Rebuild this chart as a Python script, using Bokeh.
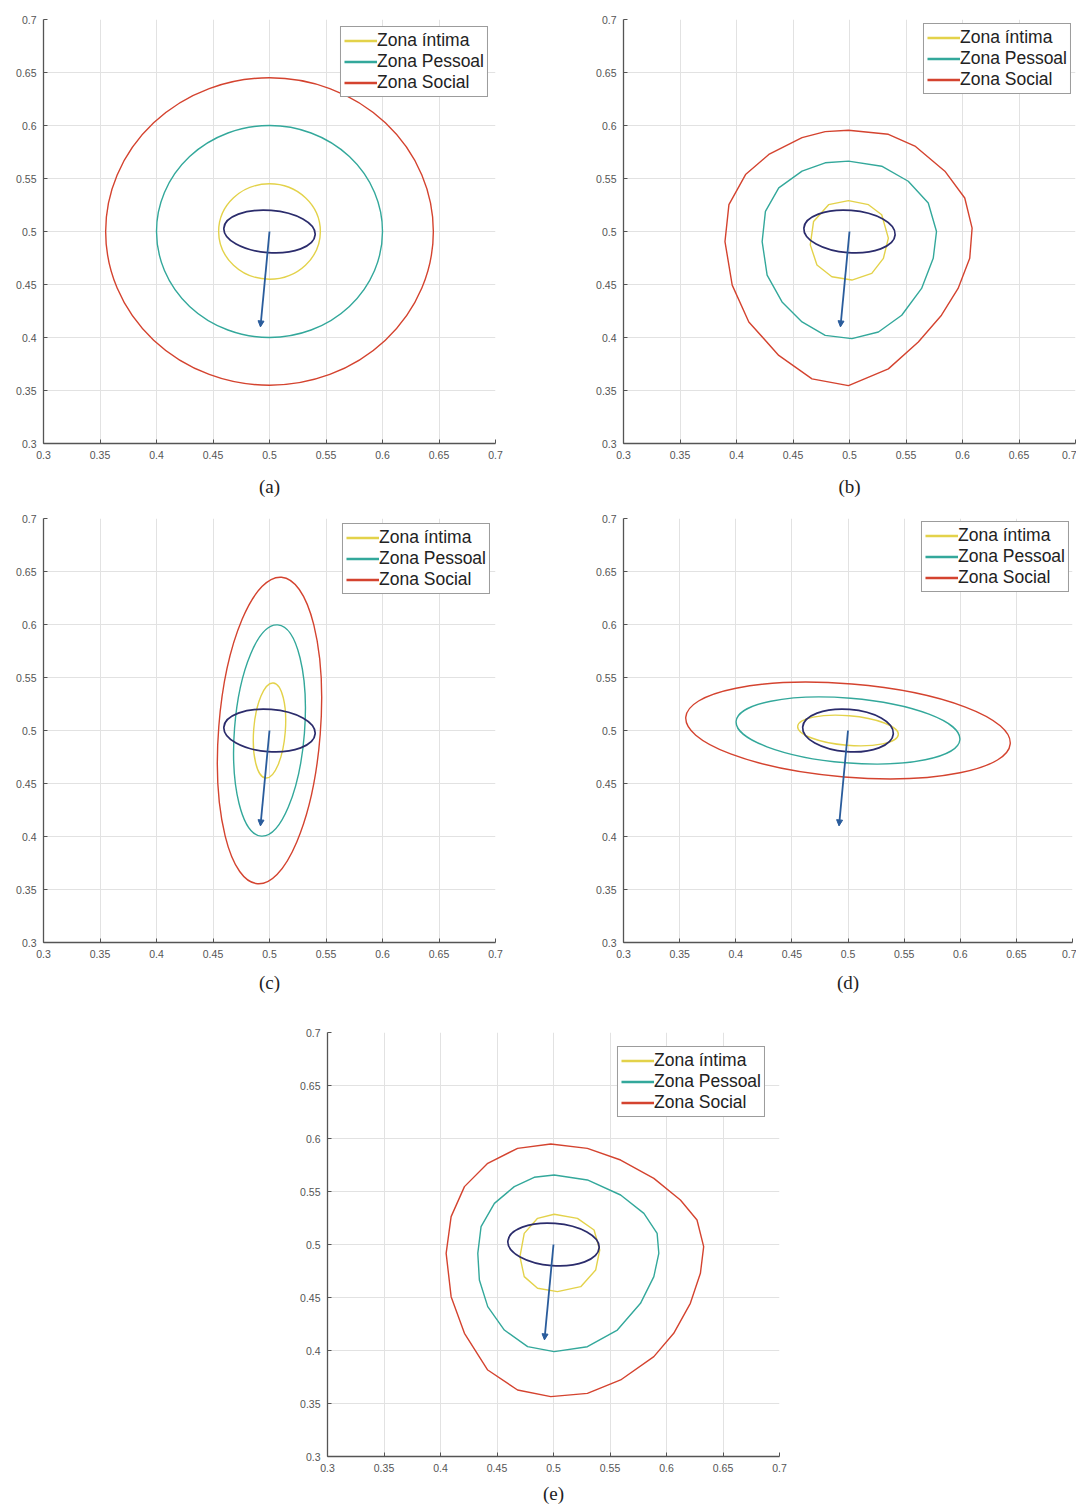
from bokeh.plotting import figure
from bokeh.models import Legend, LegendItem, Title, Arrow, NormalHead, Range1d, Spacer
from bokeh.layouts import column, row
from bokeh.embed import file_html
from bokeh.resources import INLINE

# ---------------- data ----------------
ticks = [0.3, 0.35, 0.4, 0.45, 0.5, 0.55, 0.6, 0.65, 0.7]
tick_labels = ["0.3", "0.35", "0.4", "0.45", "0.5", "0.55", "0.6", "0.65", "0.7"]
zone_names = ["Zona íntima", "Zona Pessoal", "Zona Social"]
panel_labels = ["(a)", "(b)", "(c)", "(d)", "(e)"]

# person (body ellipse) and heading arrow
body_x, body_y = 0.5, 0.5
body_w, body_h, body_angle = 0.081, 0.040, -0.075
head_x0, head_y0 = 0.5, 0.5
head_x1, head_y1 = 0.492, 0.41

# elliptical zones (a), (c), (d): centre, full width, full height, angle (rad)
zone_cx = [0.5, 0.5, 0.5]
zone_cy = [0.5, 0.5, 0.5]
a_w = [0.090, 0.200, 0.290]
a_h = [0.090, 0.200, 0.290]
a_ang = [0.0, 0.0, 0.0]
c_w = [0.028, 0.062, 0.090]
c_h = [0.090, 0.200, 0.290]
c_ang = [-0.078, -0.078, -0.078]
d_w = [0.090, 0.200, 0.290]
d_h = [0.028, 0.061, 0.088]
d_ang = [-0.082, -0.082, -0.082]

# irregular zones (b)
b_int_x = [0.4991, 0.5168, 0.5285, 0.5344, 0.5300, 0.5197, 0.5021, 0.4844, 0.4712, 0.4653, 0.4682, 0.4815]
b_int_y = [0.5291, 0.5253, 0.5158, 0.4937, 0.4747, 0.4605, 0.4542, 0.4573, 0.4684, 0.4874, 0.5095, 0.5253]
b_pes_x = [0.4991, 0.5285, 0.5520, 0.5697, 0.5770, 0.5741, 0.5638, 0.5462, 0.5256, 0.5021, 0.4785, 0.4580,
           0.4403, 0.4271, 0.4227, 0.4256, 0.4374, 0.4580, 0.4785]
b_pes_y = [0.5664, 0.5616, 0.5474, 0.5269, 0.5000, 0.4747, 0.4463, 0.4210, 0.4052, 0.3989, 0.4020, 0.4147,
           0.4336, 0.4589, 0.4905, 0.5190, 0.5411, 0.5569, 0.5648]
b_soc_x = [0.4991, 0.5344, 0.5579, 0.5844, 0.6020, 0.6085, 0.6064, 0.5961, 0.5814, 0.5609, 0.5344, 0.4991,
           0.4668, 0.4374, 0.4109, 0.3962, 0.3898, 0.3933, 0.4080, 0.4286, 0.4580, 0.4785]
b_soc_y = [0.5955, 0.5917, 0.5806, 0.5569, 0.5316, 0.5032, 0.4747, 0.4463, 0.4210, 0.3957, 0.3704, 0.3546,
           0.3610, 0.3831, 0.4147, 0.4494, 0.4905, 0.5253, 0.5537, 0.5727, 0.5885, 0.5942]

# irregular zones (e)
e_int_x = [0.5006, 0.5212, 0.5359, 0.5409, 0.5373, 0.5241, 0.5035, 0.4859, 0.4741, 0.4703, 0.4741, 0.4859]
e_int_y = [0.5285, 0.5247, 0.5137, 0.4948, 0.4759, 0.4602, 0.4555, 0.4587, 0.4697, 0.4885, 0.5105, 0.5247]
e_pes_x = [0.5006, 0.5300, 0.5594, 0.5800, 0.5917, 0.5932, 0.5888, 0.5770, 0.5565, 0.5300, 0.5006, 0.4771,
           0.4565, 0.4418, 0.4344, 0.4330, 0.4359, 0.4477, 0.4653, 0.4829]
e_pes_y = [0.5656, 0.5609, 0.5467, 0.5294, 0.5105, 0.4917, 0.4697, 0.4445, 0.4193, 0.4036, 0.3989, 0.4036,
           0.4193, 0.4414, 0.4665, 0.4917, 0.5168, 0.5388, 0.5546, 0.5634]
e_soc_x = [0.4976, 0.5300, 0.5594, 0.5888, 0.6123, 0.6270, 0.6329, 0.6300, 0.6211, 0.6064, 0.5888, 0.5594,
           0.5300, 0.4976, 0.4682, 0.4418, 0.4212, 0.4094, 0.4050, 0.4094, 0.4212, 0.4418, 0.4682]
e_soc_y = [0.5948, 0.5907, 0.5797, 0.5624, 0.5420, 0.5231, 0.4980, 0.4728, 0.4445, 0.4162, 0.3942, 0.3722,
           0.3596, 0.3565, 0.3627, 0.3816, 0.4162, 0.4508, 0.4917, 0.5263, 0.5546, 0.5766, 0.5907]

# ---------------- style ----------------
ZONE_COLORS = ["#e3d24a", "#33a89b", "#d4432f"]
BODY_COLOR = "#2b2c6c"
ARROW_COLOR = "#2a5c9c"
GRID = "#e2e2e2"
AX = "#555555"
NAN = float("nan")


def make_panel(idx, frame_w, frame_h, bl, br, bt, bb, leg_margin, title_standoff):
    p = figure(frame_width=frame_w, frame_height=frame_h,
               x_range=Range1d(0.3, 0.7), y_range=Range1d(0.3, 0.7),
               output_backend="svg", toolbar_location=None,
               min_border_left=bl, min_border_right=br,
               min_border_top=bt, min_border_bottom=bb,
               background_fill_color="white", border_fill_color="white")
    p.outline_line_color = None
    for ax in (p.xaxis, p.yaxis):
        ax.ticker = ticks
        ax.major_label_overrides = dict(zip(ticks, tick_labels))
        ax.axis_line_color = AX
        ax.axis_line_width = 1.3
        ax.major_tick_line_color = AX
        ax.major_tick_in = 4
        ax.major_tick_out = 0
        ax.minor_tick_line_color = None
        ax.major_label_text_font = "Liberation Sans"
        ax.major_label_text_font_size = "10.5px"
        ax.major_label_text_color = "#555555"
        ax.major_label_standoff = 7
    p.grid.grid_line_color = GRID
    p.grid.grid_line_width = 1
    p.add_layout(Title(text=panel_labels[idx], align="center", text_font="Liberation Serif",
                       text_font_size="19px", text_font_style="normal", text_color="#222222",
                       standoff=title_standoff), "below")

    items = []
    for name, col in zip(zone_names, ZONE_COLORS):
        r = p.line(x=[NAN], y=[NAN], line_color=col, line_width=2.5)
        items.append(LegendItem(label=name, renderers=[r]))
    legend = Legend(items=items, location="top_right", margin=leg_margin, padding=3, spacing=0,
                    label_standoff=0, glyph_width=33, glyph_height=19, label_height=19,
                    label_text_font="Liberation Sans", label_text_font_size="17.5px",
                    label_text_line_height=0.85,
                    label_text_color="#222222", border_line_color="#3a3a3a", border_line_width=1,
                    background_fill_color="white", background_fill_alpha=1.0)
    p.add_layout(legend, "center")
    return p


def add_ellipse_zones(p, w, h, ang):
    for i in range(3):
        p.ellipse(x=zone_cx[i], y=zone_cy[i], width=w[i], height=h[i], angle=ang[i],
                  fill_color=None, line_color=ZONE_COLORS[i], line_width=1.4)


def add_contour_zones(p, xs, ys):
    for i in range(3):
        p.patch(x=xs[i], y=ys[i], fill_color=None, fill_alpha=0,
                line_color=ZONE_COLORS[i], line_width=1.4, line_join="round")


def add_person(p):
    p.ellipse(x=body_x, y=body_y, width=body_w, height=body_h, angle=body_angle,
              fill_color=None, line_color=BODY_COLOR, line_width=1.7)
    p.add_layout(Arrow(end=NormalHead(size=6, fill_color=ARROW_COLOR, line_color=ARROW_COLOR),
                       x_start=head_x0, y_start=head_y0, x_end=head_x1, y_end=head_y1,
                       line_color=ARROW_COLOR, line_width=1.8))


FH = 424
pa = make_panel(0, 452, FH, 43, 93, 19, 66, 7, 25)
add_ellipse_zones(pa, a_w, a_h, a_ang)
add_person(pa)

pb = make_panel(1, 452, FH, 35, 1, 19, 66, 4, 25)
add_contour_zones(pb, [b_int_x, b_pes_x, b_soc_x], [b_int_y, b_pes_y, b_soc_y])
add_person(pb)

pc = make_panel(2, 452, FH, 43, 93, 9, 76, 5, 19)
add_ellipse_zones(pc, c_w, c_h, c_ang)
add_person(pc)

pd = make_panel(3, 449, FH, 35, 4, 9, 76, 3, 19)
add_ellipse_zones(pd, d_w, d_h, d_ang)
add_person(pd)

pe = make_panel(4, 452, FH, 35, 10, 14, 50, 14, 12)
add_contour_zones(pe, [e_int_x, e_pes_x, e_soc_x], [e_int_y, e_pes_y, e_soc_y])
add_person(pe)

layout = column(row(pa, pb), row(pc, pd), row(Spacer(width=292, height=10), pe))

open("out.html", "w").write(file_html(layout, INLINE))
